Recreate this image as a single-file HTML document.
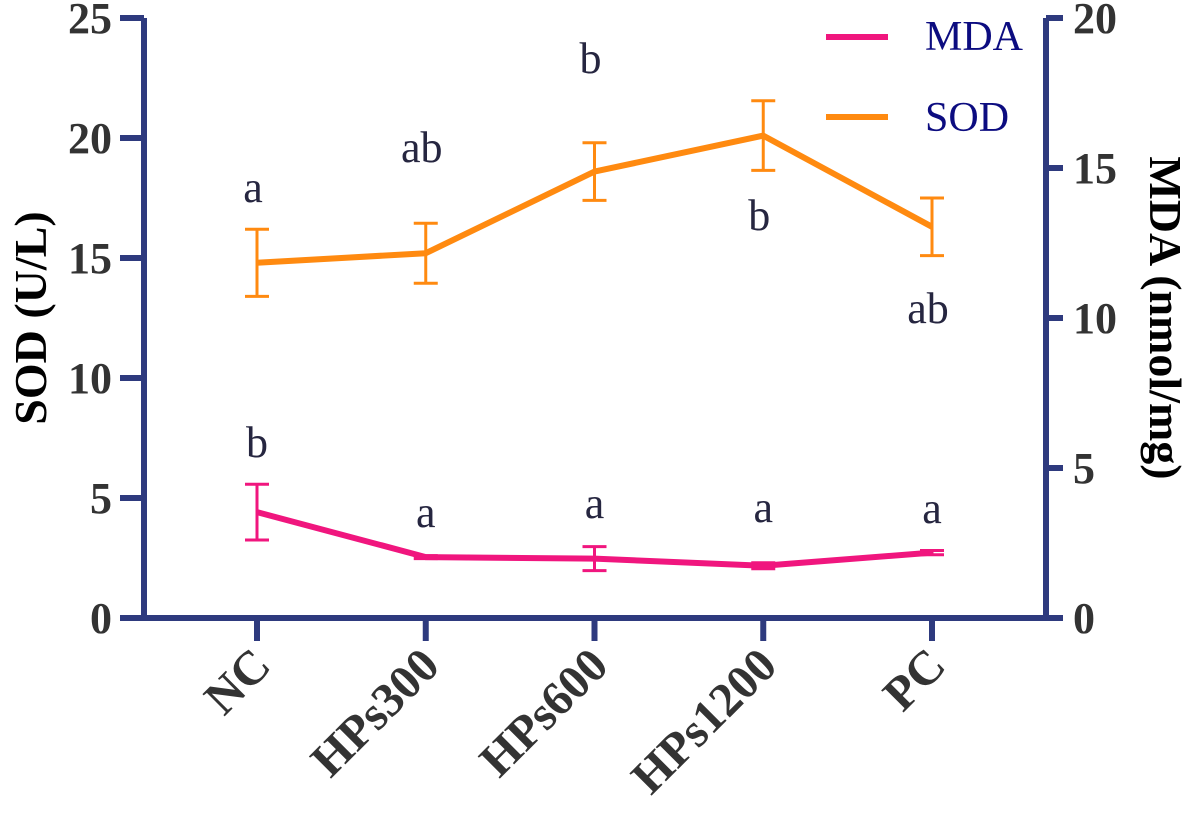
<!DOCTYPE html>
<html><head><meta charset="utf-8"><style>
html,body{margin:0;padding:0;background:#fff;}
svg{display:block;}
text{font-family:"Liberation Serif","Times New Roman","DejaVu Serif",serif;}
</style></head><body>
<svg id="chart" width="1197" height="823" viewBox="0 0 1197 823"></svg>
<script>
const categories = ["NC","HPs300","HPs600","HPs1200","PC"];
const sodValues = [14.8, 15.2, 18.6, 20.1, 16.3];
const sodErrors = [1.4, 1.25, 1.2, 1.45, 1.2];
const sodLetters = ["a","ab","b","b","ab"];
const sodLetterY = [17.33, 19.0, 22.7, 16.17, 12.29];
const mdaValues = [3.53, 2.03, 1.98, 1.74, 2.18];
const mdaErrors = [0.93, 0.05, 0.4, 0.1, 0.07];
const mdaLetters = ["b","a","a","a","a"];
const mdaLetterY = [5.37, 3.03, 3.33, 3.2, 3.17];
const leftTicks = [0,5,10,15,20,25];
const rightTicks = [0,5,10,15,20];

const NS="http://www.w3.org/2000/svg";
const svg=document.getElementById('chart');
const FONT='Liberation Serif, Times New Roman, DejaVu Serif, serif';
const AX="#2e3a7e", TXT="#333333", LET="#262640";
const x0=144, x1=1046, yTop=18, yBot=618;
const xs=[257,426,595,764,932];
function xPos(i){return xs[0]+i*(xs[4]-xs[0])/(categories.length-1);}
function yL(v){return yBot-(yBot-yTop)*v/25;}
function yR(v){return yBot-(yBot-yTop)*v/20;}
function el(tag,attrs,parent){const e=document.createElementNS(NS,tag);for(const k in attrs)e.setAttribute(k,attrs[k]);(parent||svg).appendChild(e);return e;}
function txt(s,attrs,parent){attrs['font-family']=FONT;const e=el('text',attrs,parent);e.textContent=s;return e;}

const ax=el('g',{});


el('line',{x1:x0,y1:yTop,x2:x0,y2:yBot+3,stroke:AX,'stroke-width':6},ax);
el('line',{x1:x1,y1:yTop,x2:x1,y2:yBot+3,stroke:AX,'stroke-width':6},ax);
el('line',{x1:x0-3,y1:yBot,x2:x1+3,y2:yBot,stroke:AX,'stroke-width':6},ax);
leftTicks.forEach(v=>{
  el('line',{x1:120,y1:yL(v),x2:x0,y2:yL(v),stroke:AX,'stroke-width':6},ax);
  const t=txt(String(v),{x:112,y:yL(v)+15,'text-anchor':'end','font-size':44,'font-weight':'bold',fill:TXT},ax);
  
  
});
rightTicks.forEach(v=>{
  el('line',{x1:x1,y1:yR(v),x2:1063,y2:yR(v),stroke:AX,'stroke-width':6},ax);
  const t=txt(String(v),{x:1073,y:yR(v)+15,'text-anchor':'start','font-size':44,'font-weight':'bold',fill:TXT},ax);
  
  
});
categories.forEach((c,i)=>{
  const x=xPos(i);
  el('line',{x1:x,y1:yBot,x2:x,y2:641,stroke:AX,'stroke-width':6},ax);
  const t=txt(c,{x:0,y:0,'text-anchor':'end','font-size':48,'font-weight':'bold',fill:TXT,transform:`translate(${x+16},${668}) rotate(-45)`},ax);
  
  
});
const yt=txt("SOD (U/L)",{x:0,y:0,'text-anchor':'middle','font-size':46,'font-weight':'bold',fill:'#000',transform:'translate(46,318) rotate(-90)'});


const yt2=txt("MDA (nmol/mg)",{x:0,y:0,'text-anchor':'middle','font-size':46,'font-weight':'bold',fill:'#000',transform:'translate(1150,318) rotate(90)'});



function series(vals,errs,yf,color,name){
  const g=el('g',{});
  
  
  vals.forEach((v,i)=>{
    const x=xPos(i),t=yf(v+errs[i]),b=yf(v-errs[i]);
    const eb=el('path',{d:`M${x},${t}V${b}M${x-12},${t}H${x+12}M${x-12},${b}H${x+12}`,stroke:color,'stroke-width':3,fill:'none'},g);
    
    
  });
  const pts=vals.map((v,i)=>xPos(i)+','+yf(v)).join(' ');
  const l=el('polyline',{points:pts,stroke:color,'stroke-width':6,fill:'none','stroke-linejoin':'round'},g);
  
  
}
series(sodValues,sodErrors,yL,'#ff8a10','sod');
series(mdaValues,mdaErrors,yR,'#f0167e','mda');

sodLetters.forEach((s,i)=>{
  const t=txt(s,{x:xPos(i)-4,y:yL(sodLetterY[i]),'text-anchor':'middle','font-size':44,fill:LET});
  
  
});
mdaLetters.forEach((s,i)=>{
  const t=txt(s,{x:xPos(i),y:yR(mdaLetterY[i]),'text-anchor':'middle','font-size':44,fill:LET});
  
  
});

const lg=el('g',{});


el('line',{x1:826,y1:37,x2:888,y2:37,stroke:'#f0167e','stroke-width':6},lg);
txt("MDA",{x:925,y:50,'font-size':42,fill:'#0c0c80'},lg);
el('line',{x1:826,y1:117,x2:888,y2:117,stroke:'#ff8a10','stroke-width':6},lg);
txt("SOD",{x:925,y:131,'font-size':42,fill:'#0c0c80'},lg);
</script>
</body></html>
